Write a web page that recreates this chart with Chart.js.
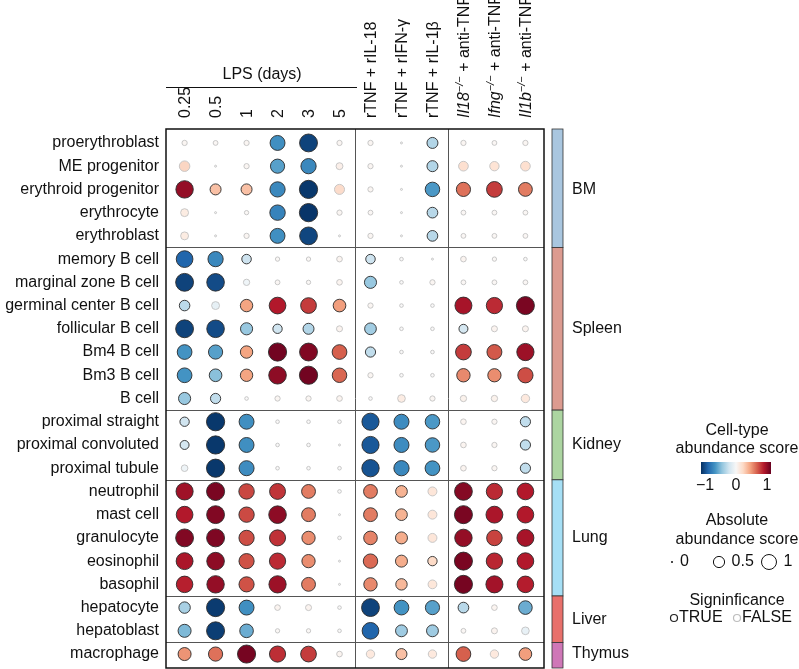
<!DOCTYPE html>
<html><head><meta charset="utf-8">
<script src="https://cdn.jsdelivr.net/npm/chart.js@4.4.0/dist/chart.umd.min.js"></script>
<style>html,body{margin:0;padding:0;background:#fff;overflow:hidden}canvas{display:block}</style>
</head><body>
<canvas id="c" width="799" height="669"></canvas>
<script>
// ---------------- DATA ----------------
const cellTypes = ['proerythroblast','ME progenitor','erythroid progenitor','erythrocyte','erythroblast',
  'memory B cell','marginal zone B cell','germinal center B cell','follicular B cell','Bm4 B cell','Bm3 B cell','B cell',
  'proximal straight','proximal convoluted','proximal tubule',
  'neutrophil','mast cell','granulocyte','eosinophil','basophil',
  'hepatocyte','hepatoblast','macrophage'];
const conditions = ['0.25','0.5','1','2','3','5','rTNF + rIL-18','rTNF + rIFN-γ','rTNF + rIL-1β',
  'Il18−/− + anti-TNF','Ifng−/− + anti-TNF','Il1b−/− + anti-TNF'];
const columnGroupSizes = [6, 3, 3];
const lpsTitle = 'LPS (days)';
const tissues = ['BM','Spleen','Kidney','Lung','Liver','Thymus'];
const tissueRowCounts = [5, 7, 3, 5, 2, 1];

// cell-type abundance score per row (columns follow `conditions`)
const scoreProerythroblast = [0.04, 0.03, 0.04, -0.62, -0.93, 0.04, 0.04, 0.0, -0.3, 0.04, 0.03, 0.04];
const scoreMEProgenitor    = [0.27, 0.0, 0.04, -0.55, -0.65, 0.09, 0.04, 0.0, -0.3, 0.22, 0.2, 0.22];
const scoreErythroidProg   = [0.88, 0.3, 0.3, -0.65, -0.97, 0.24, 0.04, 0.0, -0.58, 0.55, 0.7, 0.52];
const scoreErythrocyte     = [0.13, 0.0, 0.02, -0.67, -0.98, 0.04, 0.03, 0.0, -0.28, 0.03, 0.03, 0.03];
const scoreErythroblast    = [0.13, 0.0, 0.04, -0.62, -0.92, 0.0, 0.04, 0.0, -0.28, 0.03, 0.03, 0.03];
const scoreMemoryB         = [-0.8, -0.65, -0.21, 0.02, 0.02, 0.05, -0.21, 0.01, 0.0, 0.05, 0.02, 0.01];
const scoreMarginalZoneB   = [-0.93, -0.9, -0.07, 0.03, 0.02, 0.05, -0.38, 0.01, 0.04, 0.03, 0.03, 0.03];
const scoreGerminalCenterB = [-0.27, -0.13, 0.4, 0.8, 0.7, 0.42, 0.04, 0.01, 0.01, 0.83, 0.75, 0.95];
const scoreFollicularB     = [-0.93, -0.9, -0.38, -0.2, -0.3, 0.06, -0.35, 0.01, 0.01, -0.18, 0.06, 0.06];
const scoreBm4B            = [-0.6, -0.55, 0.4, 0.97, 0.93, 0.6, -0.25, 0.01, 0.01, 0.7, 0.62, 0.86];
const scoreBm3B            = [-0.6, -0.42, 0.4, 0.9, 0.97, 0.58, 0.04, 0.01, 0.01, 0.48, 0.47, 0.65];
const scoreBCell           = [-0.38, -0.25, 0.01, 0.04, 0.04, 0.05, 0.01, 0.12, 0.04, 0.07, 0.07, 0.15];
const scoreProxStraight    = [-0.2, -0.97, -0.62, 0.01, 0.01, 0.01, -0.85, -0.63, -0.58, 0.05, 0.04, -0.25];
const scoreProxConvoluted  = [-0.18, -0.97, -0.62, 0.01, 0.01, 0.0, -0.85, -0.63, -0.58, 0.05, 0.04, -0.25];
const scoreProxTubule      = [-0.08, -0.97, -0.63, 0.01, 0.01, 0.01, -0.87, -0.65, -0.6, 0.05, 0.04, -0.25];
const scoreNeutrophil      = [0.85, 0.95, 0.67, 0.72, 0.52, 0.01, 0.52, 0.35, 0.18, 0.92, 0.75, 0.8];
const scoreMastCell        = [0.8, 0.93, 0.66, 0.9, 0.52, 0.0, 0.52, 0.35, 0.18, 0.95, 0.82, 0.8];
const scoreGranulocyte     = [0.93, 0.94, 0.65, 0.73, 0.47, 0.01, 0.5, 0.37, 0.18, 0.88, 0.68, 0.83];
const scoreEosinophil      = [0.82, 0.9, 0.64, 0.75, 0.47, 0.0, 0.57, 0.37, 0.2, 0.95, 0.76, 0.8];
const scoreBasophil        = [0.78, 0.88, 0.64, 0.86, 0.52, 0.0, 0.48, 0.33, 0.17, 0.96, 0.84, 0.79];
const scoreHepatocyte      = [-0.33, -0.96, -0.62, 0.05, 0.06, 0.01, -0.93, -0.6, -0.55, -0.28, 0.05, -0.5];
const scoreHepatoblast     = [-0.45, -0.95, -0.5, 0.02, 0.02, 0.01, -0.8, -0.36, -0.36, 0.03, 0.06, -0.12];
const scoreMacrophage      = [0.45, 0.55, 0.96, 0.74, 0.7, 0.05, 0.15, 0.3, 0.15, 0.6, 0.15, 0.42];

// significance per row (1 = TRUE, 0 = FALSE)
const sigProerythroblast = [0,0,0,1,1,0,0,0,1,0,0,0];
const sigMEProgenitor    = [0,0,0,1,1,0,0,0,1,0,0,0];
const sigErythroidProg   = [1,1,1,1,1,0,0,0,1,1,1,1];
const sigErythrocyte     = [0,0,0,1,1,0,0,0,1,0,0,0];
const sigErythroblast    = [0,0,0,1,1,0,0,0,1,0,0,0];
const sigMemoryB         = [1,1,1,0,0,0,1,0,0,0,0,0];
const sigMarginalZoneB   = [1,1,0,0,0,0,1,0,0,0,0,0];
const sigGerminalCenterB = [1,0,1,1,1,1,0,0,0,1,1,1];
const sigFollicularB     = [1,1,1,1,1,0,1,0,0,1,0,0];
const sigBm4B            = [1,1,1,1,1,1,1,0,0,1,1,1];
const sigBm3B            = [1,1,1,1,1,1,0,0,0,1,1,1];
const sigBCell           = [1,1,0,0,0,0,0,0,0,0,0,0];
const sigProxStraight    = [1,1,1,0,0,0,1,1,1,0,0,1];
const sigProxConvoluted  = [1,1,1,0,0,0,1,1,1,0,0,1];
const sigProxTubule      = [0,1,1,0,0,0,1,1,1,0,0,1];
const sigNeutrophil      = [1,1,1,1,1,0,1,1,0,1,1,1];
const sigMastCell        = [1,1,1,1,1,0,1,1,0,1,1,1];
const sigGranulocyte     = [1,1,1,1,1,0,1,1,0,1,1,1];
const sigEosinophil      = [1,1,1,1,1,0,1,1,1,1,1,1];
const sigBasophil        = [1,1,1,1,1,0,1,1,0,1,1,1];
const sigHepatocyte      = [1,1,1,0,0,0,1,1,1,1,0,1];
const sigHepatoblast     = [1,1,1,0,0,0,1,1,1,0,0,0];
const sigMacrophage      = [1,1,1,1,1,0,0,1,0,1,0,1];

const scoreRows = [scoreProerythroblast, scoreMEProgenitor, scoreErythroidProg, scoreErythrocyte, scoreErythroblast,
  scoreMemoryB, scoreMarginalZoneB, scoreGerminalCenterB, scoreFollicularB, scoreBm4B, scoreBm3B, scoreBCell,
  scoreProxStraight, scoreProxConvoluted, scoreProxTubule,
  scoreNeutrophil, scoreMastCell, scoreGranulocyte, scoreEosinophil, scoreBasophil,
  scoreHepatocyte, scoreHepatoblast, scoreMacrophage];
const sigRows = [sigProerythroblast, sigMEProgenitor, sigErythroidProg, sigErythrocyte, sigErythroblast,
  sigMemoryB, sigMarginalZoneB, sigGerminalCenterB, sigFollicularB, sigBm4B, sigBm3B, sigBCell,
  sigProxStraight, sigProxConvoluted, sigProxTubule,
  sigNeutrophil, sigMastCell, sigGranulocyte, sigEosinophil, sigBasophil,
  sigHepatocyte, sigHepatoblast, sigMacrophage];

const colorbarTicks = [-1, 0, 1];
const sizeLegendValues = [0, 0.5, 1];
const sigLegendLabels = ['TRUE', 'FALSE'];

// ---------------- STYLE ----------------
const FONT = "'Liberation Sans', Arial, Helvetica, sans-serif";
const TEXT = '#111';
const tissueColors = ['#a9c6df', '#dc9b90', '#acd5a1', '#a6dff5', '#e8706b', '#cf77b7'];
const rdbu = [[-1,'#053061'],[-0.8,'#2166ac'],[-0.6,'#4393c3'],[-0.4,'#92c5de'],[-0.2,'#d1e5f0'],[0,'#f7f7f7'],
  [0.2,'#fddbc7'],[0.4,'#f4a582'],[0.6,'#d6604d'],[0.8,'#b2182b'],[1,'#67001f']];
const ABS_PER_SCORE = 1.6; // absolute abundance score shown by dot size ~ 1.6 x |score|

function hex(h){return [parseInt(h.slice(1,3),16),parseInt(h.slice(3,5),16),parseInt(h.slice(5,7),16)];}
function scoreColor(v, alpha){
  v = Math.max(-1, Math.min(1, v));
  let i = 0; while (i < rdbu.length-2 && v > rdbu[i+1][0]) i++;
  const [v0,c0] = rdbu[i], [v1,c1] = rdbu[i+1];
  const t = (v - v0)/(v1 - v0), a = hex(c0), b = hex(c1);
  const c = a.map((k,j)=>Math.round(k + (b[j]-k)*t));
  return `rgba(${c[0]},${c[1]},${c[2]},${alpha})`;
}
function radiusFor(absScore){ return 1 + 6.5*Math.sqrt(Math.max(0,absScore)); }

const points = [];
scoreRows.forEach((row, r) => row.forEach((v, c) => points.push({x: c, y: r, v, sig: sigRows[r][c]})));

const nCols = conditions.length, nRows = cellTypes.length;
const colBreaks = []; { let a = 0; columnGroupSizes.slice(0,-1).forEach(n => { a += n; colBreaks.push(a - 0.5); }); }
const rowBreaks = []; { let a = 0; tissueRowCounts.slice(0,-1).forEach(n => { a += n; rowBreaks.push(a - 0.5); }); }

function drawHeader(ctx, label, px, baseY){
  const m = label.match(/^(\S+)−\/−(.*)$/);
  const parts = m ? [{t:m[1], it:1}, {t:'−/−', it:1, sup:1}, {t:m[2]}] : [{t:label}];
  ctx.save();
  ctx.translate(px + 5.7, baseY);
  ctx.rotate(-Math.PI/2);
  ctx.textAlign = 'left'; ctx.textBaseline = 'alphabetic'; ctx.fillStyle = TEXT;
  let off = 0;
  parts.forEach(p => {
    ctx.font = `${p.it ? 'italic ' : ''}${p.sup ? 11 : 16}px ${FONT}`;
    ctx.fillText(p.t, off, p.sup ? -6 : 0);
    off += ctx.measureText(p.t).width;
  });
  ctx.restore();
}

const decor = {
  id: 'decor',
  beforeDatasetsDraw(chart){
    const {ctx, chartArea: a, scales: {x, y}} = chart;
    ctx.save();
    ctx.strokeStyle = '#555'; ctx.lineWidth = 1;
    rowBreaks.forEach(b => { const py = Math.round(y.getPixelForValue(b)) + 0.5;
      ctx.beginPath(); ctx.moveTo(a.left, py); ctx.lineTo(a.right, py); ctx.stroke(); });
    colBreaks.forEach(b => { const px = Math.round(x.getPixelForValue(b)) + 0.5;
      ctx.beginPath(); ctx.moveTo(px, a.top); ctx.lineTo(px, a.bottom); ctx.stroke(); });
    ctx.strokeStyle = '#111'; ctx.lineWidth = 1.5;
    ctx.strokeRect(a.left, a.top, a.right - a.left, a.bottom - a.top);
    ctx.restore();
  },
  afterDraw(chart){
    const {ctx, chartArea: a, scales: {x, y}} = chart;
    ctx.save();
    // column headers
    conditions.forEach((lab, i) => drawHeader(ctx, lab, x.getPixelForValue(i), 118));
    // LPS group title
    ctx.font = `16px ${FONT}`; ctx.fillStyle = TEXT; ctx.textAlign = 'center'; ctx.textBaseline = 'middle';
    const lpsEnd = columnGroupSizes[0] - 1;
    ctx.fillText(lpsTitle, (x.getPixelForValue(0) + x.getPixelForValue(lpsEnd))/2, 75);
    ctx.strokeStyle = '#111'; ctx.lineWidth = 1.2;
    ctx.beginPath(); ctx.moveTo(a.left, 87.5); ctx.lineTo(x.getPixelForValue(lpsEnd + 0.5) + 2, 87.5); ctx.stroke();
    // tissue bars
    let start = 0;
    const bx = a.right + 8, bw = 11;
    tissues.forEach((name, i) => {
      const n = tissueRowCounts[i];
      const y0 = y.getPixelForValue(i === 0 ? y.min : start - 0.5);
      const y1 = y.getPixelForValue(i === tissues.length - 1 ? y.max : start + n - 0.5);
      ctx.fillStyle = tissueColors[i]; ctx.fillRect(bx, y0, bw, y1 - y0);
      ctx.strokeStyle = '#333'; ctx.lineWidth = 0.8; ctx.strokeRect(bx, y0, bw, y1 - y0);
      ctx.fillStyle = TEXT; ctx.textAlign = 'left'; ctx.textBaseline = 'middle'; ctx.font = `16px ${FONT}`;
      ctx.fillText(name, bx + 20, y.getPixelForValue(start + (n - 1)/2));
      start += n;
    });
    // colour legend
    const cx = 737;
    ctx.textAlign = 'center'; ctx.fillStyle = TEXT;
    ctx.fillText('Cell-type', cx, 431);
    ctx.fillText('abundance score', cx, 449);
    const cbL = 701, cbR = 771, cbT = 462, cbB = 474;
    const g = ctx.createLinearGradient(cbL, 0, cbR, 0);
    rdbu.forEach(([v, c]) => g.addColorStop((v + 1)/2, c));
    ctx.fillStyle = g; ctx.fillRect(cbL, cbT, cbR - cbL, cbB - cbT);
    ctx.fillStyle = TEXT;
    colorbarTicks.forEach(v => {
      const px = cbL + 4 + (v + 1)/2*(cbR - cbL - 8);
      ctx.fillText(v < 0 ? '−' + Math.abs(v) : String(v), px, 486);
    });
    // size legend
    ctx.fillText('Absolute', cx, 521);
    ctx.fillText('abundance score', cx, 540);
    const sy = 562;
    const sizeX = [672, 719, 769];
    ctx.strokeStyle = '#111'; ctx.lineWidth = 1;
    sizeLegendValues.forEach((v, i) => {
      ctx.beginPath(); ctx.arc(sizeX[i], sy, radiusFor(v), 0, Math.PI*2);
      if (v === 0) { ctx.fillStyle = '#111'; ctx.fill(); } else ctx.stroke();
      ctx.fillStyle = TEXT; ctx.textAlign = 'left';
      ctx.fillText(String(v), sizeX[i] + radiusFor(v) + 7, sy);
    });
    // significance legend
    ctx.textAlign = 'center';
    ctx.fillText('Signinficance', cx, 601);
    const ty = 618;
    const sigX = [674, 737], sigCol = ['#222', '#bdbdbd'];
    sigLegendLabels.forEach((lab, i) => {
      ctx.beginPath(); ctx.arc(sigX[i], ty, 3.5, 0, Math.PI*2);
      ctx.strokeStyle = sigCol[i]; ctx.lineWidth = 1.2; ctx.stroke();
      ctx.fillStyle = TEXT; ctx.textAlign = 'left';
      ctx.fillText(lab, sigX[i] + 5, ty);
    });
    ctx.restore();
  }
};

new Chart(document.getElementById('c'), {
  type: 'scatter',
  data: { datasets: [{
    data: points,
    pointRadius: c => radiusFor(ABS_PER_SCORE*Math.abs(c.raw.v)),
    pointHoverRadius: c => radiusFor(ABS_PER_SCORE*Math.abs(c.raw.v)),
    pointBackgroundColor: c => scoreColor(c.raw.v, c.raw.sig ? 1 : 0.75),
    pointBorderColor: c => c.raw.sig ? '#2a2a2a' : '#c2c2c2',
    pointBorderWidth: 0.9,
    pointHoverBorderWidth: 0.9
  }]},
  options: {
    responsive: false, animation: false, events: [],
    layout: { autoPadding: false, padding: { left: 0, top: 129, right: 255, bottom: 1 } },
    plugins: { legend: { display: false }, tooltip: { enabled: false } },
    scales: {
      x: { type: 'linear', min: -0.6, max: nCols - 1 + 0.6, display: false },
      y: { type: 'linear', reverse: true, min: -0.6, max: nRows - 1 + 0.6,
        afterBuildTicks: s => { s.ticks = cellTypes.map((_, i) => ({ value: i })); },
        afterFit: s => { s.width = 166; s.paddingTop = 0; s.paddingBottom = 0; },
        ticks: { autoSkip: false, padding: 7, color: TEXT, font: { family: FONT, size: 16 },
          callback: v => cellTypes[Math.round(v)] },
        grid: { display: false, drawTicks: false },
        border: { display: false } }
    }
  },
  plugins: [decor]
});
</script>
</body></html>
